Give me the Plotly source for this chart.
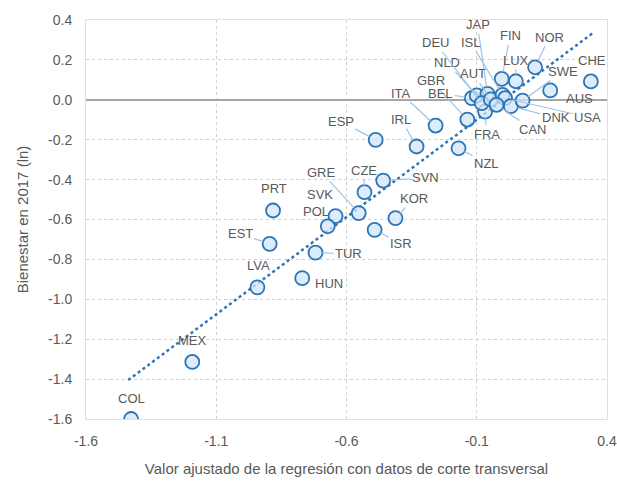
import plotly.graph_objects as go

countries = ["COL", "MEX", "LVA", "HUN", "TUR", "EST", "PRT", "POL", "SVK", "GRE",
             "CZE", "SVN", "KOR", "ISR", "ESP", "IRL", "ITA", "NZL", "GBR", "FRA",
             "BEL", "NLD", "JAP", "DEU", "AUT", "ISL", "USA", "CAN", "DNK", "SWE",
             "AUS", "FIN", "LUX", "NOR", "CHE"]
fitted = [-1.427, -1.192, -0.942, -0.770, -0.719, -0.895, -0.882, -0.642, -0.672, -0.553,
          -0.531, -0.459, -0.412, -0.492, -0.488, -0.331, -0.258, -0.170, -0.136, -0.068,
          -0.119, -0.100, -0.059, -0.081, -0.046, -0.001, 0.009, -0.024, 0.031, 0.076,
          0.182, -0.004, 0.050, 0.124, 0.338]
wellbeing = [-1.600, -1.314, -0.940, -0.894, -0.766, -0.722, -0.555, -0.583, -0.634, -0.568,
             -0.463, -0.405, -0.593, -0.652, -0.201, -0.234, -0.129, -0.243, -0.099, -0.059,
             0.008, 0.022, 0.030, -0.017, 0.002, 0.025, 0.008, -0.025, -0.032, -0.004,
             0.047, 0.105, 0.093, 0.163, 0.092]
# label anchor positions (data units) and whether a leader line is drawn
label_x = [-1.427, -1.193, -0.937, -0.668, -0.591, -1.008, -0.880, -0.719, -0.700, -0.696,
           -0.533, -0.296, -0.341, -0.390, -0.623, -0.390, -0.392, -0.062, -0.277, -0.062,
           -0.238, -0.213, -0.097, -0.258, -0.113, -0.123, 0.326, 0.114, 0.204, 0.230,
           0.293, 0.028, 0.050, 0.178, 0.341]
label_y = [-1.497, -1.206, -0.831, -0.919, -0.772, -0.672, -0.446, -0.559, -0.476, -0.363,
           -0.354, -0.391, -0.496, -0.722, -0.107, -0.099, 0.033, -0.318, 0.097, -0.174,
           0.033, 0.185, 0.377, 0.286, 0.130, 0.286, -0.087, -0.149, -0.090, 0.142,
           0.005, 0.322, 0.197, 0.314, 0.197]
leader = [False, False, False, False, True, True, False, True, False, True,
          True, True, True, True, True, True, True, True, True, True,
          True, True, True, True, True, True, True, True, True, True,
          False, True, True, True, False]

trend_x = [-1.438, 0.346]
trend_y = [-1.405, 0.335]

x_ticks = [-1.6, -1.1, -0.6, -0.1, 0.4]
y_ticks = [0.4, 0.2, 0.0, -0.2, -0.4, -0.6, -0.8, -1.0, -1.2, -1.4, -1.6]

FONT = "Liberation Sans, Arial, sans-serif"
GREY = "#595959"
BLUE = "#2e75b6"
LEAD = "#9dc3e6"

fig = go.Figure()
fig.add_trace(go.Scatter(x=trend_x, y=trend_y, mode="lines",
                         line=dict(color=BLUE, width=2.5, dash="dot"),
                         hoverinfo="skip", showlegend=False))
fig.add_trace(go.Scatter(x=fitted, y=wellbeing, mode="markers", text=countries,
                         marker=dict(size=14, color="rgba(210,230,248,0.75)",
                                     line=dict(color=BLUE, width=1.8)),
                         showlegend=False))

for name, px_, py_, lx, ly, ld in zip(countries, fitted, wellbeing, label_x, label_y, leader):
    if ld:
        fig.add_annotation(x=px_, y=py_, ax=lx, ay=ly, axref="x", ayref="y",
                           xref="x", yref="y", text=name, showarrow=True,
                           arrowhead=0, arrowwidth=1.2, arrowcolor=LEAD, standoff=7,
                           font=dict(family=FONT, size=13, color=GREY))
    else:
        fig.add_annotation(x=lx, y=ly, xref="x", yref="y", text=name, showarrow=False,
                           font=dict(family=FONT, size=13, color=GREY))

fig.update_layout(
    width=617, height=488,
    margin=dict(l=86, r=10, t=20, b=69),
    paper_bgcolor="white", plot_bgcolor="white",
    font=dict(family=FONT, color=GREY, size=14),
    xaxis=dict(range=[-1.6, 0.4], tickvals=x_ticks, ticktext=[f"{v:.1f}" for v in x_ticks],
               showgrid=True, gridcolor="#d0d0d0", griddash="dot", gridwidth=1,
               zeroline=False, showline=True, mirror=True, linecolor="#e0e0e0", linewidth=1,
               automargin=False,
               ticks="outside", ticklen=9, tickcolor="rgba(0,0,0,0)",
               tickfont=dict(size=14, color=GREY),
               title=dict(text="Valor ajustado de la regresión con datos de corte transversal",
                          font=dict(size=15, color=GREY))),
    yaxis=dict(range=[-1.6, 0.4], tickvals=y_ticks, ticktext=[f"{v:.1f}" for v in y_ticks],
               showgrid=True, gridcolor="#d0d0d0", griddash="dot", gridwidth=1,
               zeroline=True, zerolinecolor="#a6a6a6", zerolinewidth=2,
               showline=True, mirror=True, linecolor="#e0e0e0", linewidth=1,
               automargin=False,
               ticks="outside", ticklen=10, tickcolor="rgba(0,0,0,0)",
               tickfont=dict(size=14, color=GREY),
               title=dict(text="Bienestar en 2017 (ln)", font=dict(size=15, color=GREY))),
)
fig.write_html("out.html", config={"displayModeBar": False},
               post_script="document.body.style.margin='0';document.body.style.overflow='hidden';")
